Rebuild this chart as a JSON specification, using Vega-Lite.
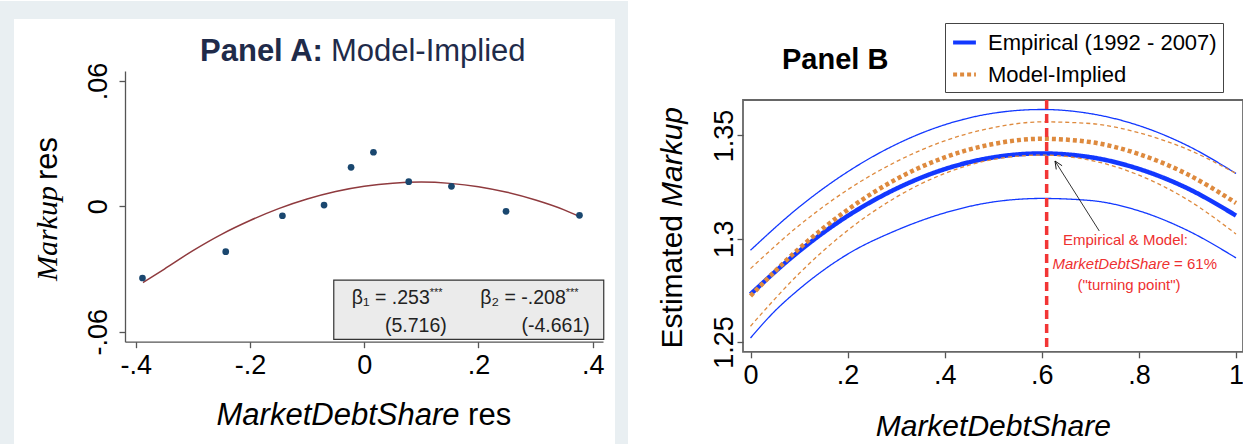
{
  "$schema": "https://vega.github.io/schema/vega-lite/v6.json",
  "padding": 0,
  "background": "white",
  "spacing": 0,
  "resolve": {"legend": {"color": "independent", "strokeDash": "independent"}},
  "config": {
    "view": {"stroke": null},
    "font": "Liberation Sans",
    "axis": {
      "grid": false,
      "zindex": 1,
      "labelFont": "Liberation Sans",
      "labelFontSize": 27,
      "labelColor": "#000000",
      "tickColor": "#555555",
      "domainColor": "#555555",
      "tickWidth": 1.3,
      "domainWidth": 1.3,
      "tickSize": 6,
      "labelFlush": false,
      "labelOverlap": false
    },
    "legend": {
      "orient": "none",
      "legendX": 202,
      "legendY": -48,
      "symbolType": "stroke",
      "symbolSize": 520,
      "symbolStrokeWidth": 4,
      "labelFont": "Liberation Sans",
      "labelFontSize": 22,
      "labelLimit": 400,
      "labelColor": "#000000",
      "labelOffset": 10,
      "strokeColor": "#444444",
      "fillColor": "#ffffff",
      "padding": 6,
      "rowPadding": 7,
      "cornerRadius": 0
    }
  },
  "datasets": {
    "binnedA": [
      {"x": -0.3884, "y": -0.0343},
      {"x": -0.2426, "y": -0.0217},
      {"x": -0.1433, "y": -0.0045},
      {"x": -0.0704, "y": 0.0006},
      {"x": -0.0231, "y": 0.0187},
      {"x": 0.0161, "y": 0.0259},
      {"x": 0.0779, "y": 0.0118},
      {"x": 0.1527, "y": 0.0096},
      {"x": 0.2483, "y": -0.0024},
      {"x": 0.3769, "y": -0.0043}
    ],
    "fitA": [
      {"x": -0.3874, "y": -0.0365},
      {"x": -0.35, "y": -0.0300},
      {"x": -0.30, "y": -0.0212},
      {"x": -0.25, "y": -0.0134},
      {"x": -0.20, "y": -0.0068},
      {"x": -0.15, "y": -0.0011},
      {"x": -0.10, "y": 0.0035},
      {"x": -0.05, "y": 0.0071},
      {"x": 0.00, "y": 0.0096},
      {"x": 0.05, "y": 0.0111},
      {"x": 0.10, "y": 0.0116},
      {"x": 0.15, "y": 0.0110},
      {"x": 0.20, "y": 0.0094},
      {"x": 0.25, "y": 0.0067},
      {"x": 0.30, "y": 0.0030},
      {"x": 0.35, "y": -0.0017},
      {"x": 0.3769, "y": -0.0049}
    ],
    "curvesB": [
      {"series": "Empirical (1992 - 2007)", "curve": "emp_lo", "kind": "ci", "x": 0.0, "y": 1.2519},
      {"series": "Empirical (1992 - 2007)", "curve": "emp_lo", "kind": "ci", "x": 0.05, "y": 1.2649},
      {"series": "Empirical (1992 - 2007)", "curve": "emp_lo", "kind": "ci", "x": 0.1, "y": 1.2755},
      {"series": "Empirical (1992 - 2007)", "curve": "emp_lo", "kind": "ci", "x": 0.2, "y": 1.2925},
      {"series": "Empirical (1992 - 2007)", "curve": "emp_lo", "kind": "ci", "x": 0.3, "y": 1.3040},
      {"series": "Empirical (1992 - 2007)", "curve": "emp_lo", "kind": "ci", "x": 0.4, "y": 1.3125},
      {"series": "Empirical (1992 - 2007)", "curve": "emp_lo", "kind": "ci", "x": 0.5, "y": 1.3178},
      {"series": "Empirical (1992 - 2007)", "curve": "emp_lo", "kind": "ci", "x": 0.6, "y": 1.3195},
      {"series": "Empirical (1992 - 2007)", "curve": "emp_lo", "kind": "ci", "x": 0.7, "y": 1.3185},
      {"series": "Empirical (1992 - 2007)", "curve": "emp_lo", "kind": "ci", "x": 0.8, "y": 1.3135},
      {"series": "Empirical (1992 - 2007)", "curve": "emp_lo", "kind": "ci", "x": 0.9, "y": 1.3040},
      {"series": "Empirical (1992 - 2007)", "curve": "emp_lo", "kind": "ci", "x": 1.0, "y": 1.2907},
      {"series": "Empirical (1992 - 2007)", "curve": "emp_hi", "kind": "ci", "x": 0.0, "y": 1.2944},
      {"series": "Empirical (1992 - 2007)", "curve": "emp_hi", "kind": "ci", "x": 0.1, "y": 1.3153},
      {"series": "Empirical (1992 - 2007)", "curve": "emp_hi", "kind": "ci", "x": 0.2, "y": 1.3324},
      {"series": "Empirical (1992 - 2007)", "curve": "emp_hi", "kind": "ci", "x": 0.3, "y": 1.3457},
      {"series": "Empirical (1992 - 2007)", "curve": "emp_hi", "kind": "ci", "x": 0.4, "y": 1.3552},
      {"series": "Empirical (1992 - 2007)", "curve": "emp_hi", "kind": "ci", "x": 0.5, "y": 1.3608},
      {"series": "Empirical (1992 - 2007)", "curve": "emp_hi", "kind": "ci", "x": 0.6, "y": 1.3626},
      {"series": "Empirical (1992 - 2007)", "curve": "emp_hi", "kind": "ci", "x": 0.7, "y": 1.3606},
      {"series": "Empirical (1992 - 2007)", "curve": "emp_hi", "kind": "ci", "x": 0.8, "y": 1.3548},
      {"series": "Empirical (1992 - 2007)", "curve": "emp_hi", "kind": "ci", "x": 0.9, "y": 1.3451},
      {"series": "Empirical (1992 - 2007)", "curve": "emp_hi", "kind": "ci", "x": 1.0, "y": 1.3316},
      {"series": "Empirical (1992 - 2007)", "curve": "emp_fit", "kind": "fit", "x": 0.0, "y": 1.2731},
      {"series": "Empirical (1992 - 2007)", "curve": "emp_fit", "kind": "fit", "x": 0.1, "y": 1.2939},
      {"series": "Empirical (1992 - 2007)", "curve": "emp_fit", "kind": "fit", "x": 0.2, "y": 1.3110},
      {"series": "Empirical (1992 - 2007)", "curve": "emp_fit", "kind": "fit", "x": 0.3, "y": 1.3242},
      {"series": "Empirical (1992 - 2007)", "curve": "emp_fit", "kind": "fit", "x": 0.4, "y": 1.3337},
      {"series": "Empirical (1992 - 2007)", "curve": "emp_fit", "kind": "fit", "x": 0.5, "y": 1.3394},
      {"series": "Empirical (1992 - 2007)", "curve": "emp_fit", "kind": "fit", "x": 0.6, "y": 1.3413},
      {"series": "Empirical (1992 - 2007)", "curve": "emp_fit", "kind": "fit", "x": 0.7, "y": 1.3395},
      {"series": "Empirical (1992 - 2007)", "curve": "emp_fit", "kind": "fit", "x": 0.8, "y": 1.3338},
      {"series": "Empirical (1992 - 2007)", "curve": "emp_fit", "kind": "fit", "x": 0.9, "y": 1.3244},
      {"series": "Empirical (1992 - 2007)", "curve": "emp_fit", "kind": "fit", "x": 1.0, "y": 1.3112},
      {"series": "Model-Implied", "curve": "mod_lo", "kind": "ci", "x": 0.0, "y": 1.2576},
      {"series": "Model-Implied", "curve": "mod_lo", "kind": "ci", "x": 0.1, "y": 1.2831},
      {"series": "Model-Implied", "curve": "mod_lo", "kind": "ci", "x": 0.2, "y": 1.3040},
      {"series": "Model-Implied", "curve": "mod_lo", "kind": "ci", "x": 0.3, "y": 1.3201},
      {"series": "Model-Implied", "curve": "mod_lo", "kind": "ci", "x": 0.4, "y": 1.3316},
      {"series": "Model-Implied", "curve": "mod_lo", "kind": "ci", "x": 0.5, "y": 1.3384},
      {"series": "Model-Implied", "curve": "mod_lo", "kind": "ci", "x": 0.6, "y": 1.3405},
      {"series": "Model-Implied", "curve": "mod_lo", "kind": "ci", "x": 0.7, "y": 1.3380},
      {"series": "Model-Implied", "curve": "mod_lo", "kind": "ci", "x": 0.8, "y": 1.3308},
      {"series": "Model-Implied", "curve": "mod_lo", "kind": "ci", "x": 0.9, "y": 1.3189},
      {"series": "Model-Implied", "curve": "mod_lo", "kind": "ci", "x": 1.0, "y": 1.3023},
      {"series": "Model-Implied", "curve": "mod_hi", "kind": "ci", "x": 0.0, "y": 1.2855},
      {"series": "Model-Implied", "curve": "mod_hi", "kind": "ci", "x": 0.1, "y": 1.3064},
      {"series": "Model-Implied", "curve": "mod_hi", "kind": "ci", "x": 0.2, "y": 1.3237},
      {"series": "Model-Implied", "curve": "mod_hi", "kind": "ci", "x": 0.3, "y": 1.3373},
      {"series": "Model-Implied", "curve": "mod_hi", "kind": "ci", "x": 0.4, "y": 1.3474},
      {"series": "Model-Implied", "curve": "mod_hi", "kind": "ci", "x": 0.5, "y": 1.3538},
      {"series": "Model-Implied", "curve": "mod_hi", "kind": "ci", "x": 0.6, "y": 1.3566},
      {"series": "Model-Implied", "curve": "mod_hi", "kind": "ci", "x": 0.7, "y": 1.3558},
      {"series": "Model-Implied", "curve": "mod_hi", "kind": "ci", "x": 0.8, "y": 1.3513},
      {"series": "Model-Implied", "curve": "mod_hi", "kind": "ci", "x": 0.9, "y": 1.3433},
      {"series": "Model-Implied", "curve": "mod_hi", "kind": "ci", "x": 1.0, "y": 1.3316},
      {"series": "Model-Implied", "curve": "mod_fit", "kind": "fit", "x": 0.0, "y": 1.2723},
      {"series": "Model-Implied", "curve": "mod_fit", "kind": "fit", "x": 0.1, "y": 1.2952},
      {"series": "Model-Implied", "curve": "mod_fit", "kind": "fit", "x": 0.2, "y": 1.3140},
      {"series": "Model-Implied", "curve": "mod_fit", "kind": "fit", "x": 0.3, "y": 1.3288},
      {"series": "Model-Implied", "curve": "mod_fit", "kind": "fit", "x": 0.4, "y": 1.3394},
      {"series": "Model-Implied", "curve": "mod_fit", "kind": "fit", "x": 0.5, "y": 1.3459},
      {"series": "Model-Implied", "curve": "mod_fit", "kind": "fit", "x": 0.6, "y": 1.3484},
      {"series": "Model-Implied", "curve": "mod_fit", "kind": "fit", "x": 0.7, "y": 1.3468},
      {"series": "Model-Implied", "curve": "mod_fit", "kind": "fit", "x": 0.8, "y": 1.3410},
      {"series": "Model-Implied", "curve": "mod_fit", "kind": "fit", "x": 0.9, "y": 1.3312},
      {"series": "Model-Implied", "curve": "mod_fit", "kind": "fit", "x": 1.0, "y": 1.3173}
    ]
  },
  "hconcat": [
    {
      "width": 478,
      "height": 270.7,
      "layer": [
        {
          "data": {"values": [{}]},
          "mark": {"type": "rect", "fill": "#e9eff2"},
          "encoding": {
            "x": {
              "datum": -0.6379, "type": "quantitative",
              "scale": {"domain": [-0.419, 0.4181], "nice": false, "zero": false},
              "axis": {
                "values": [-0.4, -0.2, 0, 0.2, 0.4],
                "labelExpr": "datum.value == 0 ? '0' : replace(toString(datum.value), '0.', '.')",
                "labelPadding": 5,
                "zindex": 1,
                "title": null
              }
            },
            "x2": {"datum": 0.4619},
            "y": {
              "datum": 0.09831, "type": "quantitative",
              "scale": {"domain": [-0.0648, 0.0648], "nice": false, "zero": false},
              "axis": {
                "values": [-0.06, 0, 0.06],
                "labelExpr": "datum.value == 0 ? '0' : replace(toString(datum.value), '0.', '.')",
                "labelAngle": 270,
                "labelAlign": "center",
                "labelBaseline": "alphabetic",
                "labelPadding": 13,
                "zindex": 1,
                "title": null
              }
            },
            "y2": {"datum": -0.11426}
          }
        },
        {
          "data": {"values": [{}]},
          "mark": {"type": "rect", "fill": "#ffffff"},
          "encoding": {
            "x": {"datum": -0.6134}, "x2": {"datum": 0.4391},
            "y": {"datum": 0.0897}, "y2": {"datum": -0.11426}
          }
        },
        {
          "data": {"values": [{}]},
          "mark": {"type": "rect", "fill": "#ebebeb", "stroke": "#333333", "strokeWidth": 1.2},
          "encoding": {
            "x": {"datum": -0.0534}, "x2": {"datum": 0.4194},
            "y": {"datum": -0.0353}, "y2": {"datum": -0.0637}
          }
        },
        {
          "data": {"name": "fitA"},
          "mark": {"type": "line", "color": "#8f3a3e", "strokeWidth": 1.5, "interpolate": "monotone"},
          "encoding": {
            "x": {"field": "x", "type": "quantitative", "title": null},
            "y": {"field": "y", "type": "quantitative", "title": null}
          }
        },
        {
          "data": {"name": "binnedA"},
          "mark": {"type": "circle", "size": 45, "color": "#1a476f", "opacity": 1},
          "encoding": {
            "x": {"field": "x", "type": "quantitative", "title": null},
            "y": {"field": "y", "type": "quantitative", "title": null}
          }
        },
        {
          "data": {"values": [{}]},
          "mark": {"type": "text", "text": "Panel A:", "fontWeight": "bold", "fontSize": 31, "color": "#1f2b4a", "align": "right", "baseline": "alphabetic"},
          "encoding": {"x": {"datum": -0.0724}, "y": {"datum": 0.0696}}
        },
        {
          "data": {"values": [{}]},
          "mark": {"type": "text", "text": "Model-Implied", "fontSize": 31, "color": "#1f2b4a", "align": "left", "baseline": "alphabetic"},
          "encoding": {"x": {"datum": -0.0584}, "y": {"datum": 0.0696}}
        },
        {
          "data": {"values": [{}]},
          "mark": {"type": "text", "text": "MarketDebtShare", "fontStyle": "italic", "fontSize": 31, "color": "#000000", "align": "right", "baseline": "alphabetic"},
          "encoding": {"x": {"datum": 0.1668}, "y": {"datum": -0.1047}}
        },
        {
          "data": {"values": [{}]},
          "mark": {"type": "text", "text": "res", "fontSize": 31, "color": "#000000", "align": "left", "baseline": "alphabetic", "dx": 8.6},
          "encoding": {"x": {"datum": 0.1668}, "y": {"datum": -0.1047}}
        },
        {
          "data": {"values": [{}]},
          "mark": {"type": "text", "text": "Markup", "font": "Liberation Serif", "fontStyle": "italic", "fontSize": 30, "color": "#000000", "angle": 270, "align": "right", "baseline": "alphabetic"},
          "encoding": {"x": {"datum": -0.5385}, "y": {"datum": 0.0097}}
        },
        {
          "data": {"values": [{}]},
          "mark": {"type": "text", "text": "res", "fontSize": 31, "color": "#000000", "angle": 270, "align": "left", "baseline": "alphabetic", "dx": 6},
          "encoding": {"x": {"datum": -0.5385}, "y": {"datum": 0.0097}}
        },
        {
          "data": {"values": [{}]},
          "mark": {"type": "text", "text": "β₁ = .253", "fontSize": 19.5, "color": "#222222", "align": "right", "baseline": "alphabetic"},
          "encoding": {"x": {"datum": 0.1147}, "y": {"datum": -0.0468}}
        },
        {
          "data": {"values": [{}]},
          "mark": {"type": "text", "text": "***", "fontSize": 11, "color": "#222222", "align": "left", "baseline": "alphabetic"},
          "encoding": {"x": {"datum": 0.1147}, "y": {"datum": -0.0427}}
        },
        {
          "data": {"values": [{}]},
          "mark": {"type": "text", "text": "(5.716)", "fontSize": 19.5, "color": "#222222", "align": "right", "baseline": "alphabetic"},
          "encoding": {"x": {"datum": 0.1445}, "y": {"datum": -0.0602}}
        },
        {
          "data": {"values": [{}]},
          "mark": {"type": "text", "text": "β₂ = -.208", "fontSize": 19.5, "color": "#222222", "align": "right", "baseline": "alphabetic"},
          "encoding": {"x": {"datum": 0.3529}, "y": {"datum": -0.0468}}
        },
        {
          "data": {"values": [{}]},
          "mark": {"type": "text", "text": "***", "fontSize": 11, "color": "#222222", "align": "left", "baseline": "alphabetic"},
          "encoding": {"x": {"datum": 0.3529}, "y": {"datum": -0.0427}}
        },
        {
          "data": {"values": [{}]},
          "mark": {"type": "text", "text": "(-4.661)", "fontSize": 19.5, "color": "#222222", "align": "right", "baseline": "alphabetic"},
          "encoding": {"x": {"datum": 0.3949}, "y": {"datum": -0.0602}}
        }
      ]
    },
    {
      "width": 501,
      "height": 280.8,
      "layer": [
        {
          "data": {"values": [{}]},
          "mark": {"type": "rect", "fill": "#ffffff"},
          "encoding": {
            "x": {
              "datum": -0.25026, "type": "quantitative",
              "scale": {"domain": [-0.01545, 1.01648], "nice": false, "zero": false},
              "axis": {
                "values": [0, 0.2, 0.4, 0.6, 0.8, 1],
                "labelExpr": "datum.value == 0 ? '0' : replace(toString(datum.value), '0.', '.')",
                "domain": false,
                "labelPadding": 5,
                "zindex": 1,
                "title": null
              }
            },
            "x2": {"datum": 1.01648},
            "y": {
              "datum": 1.41517, "type": "quantitative",
              "scale": {"domain": [1.2452, 1.38125], "nice": false, "zero": false},
              "axis": {
                "values": [1.25, 1.3, 1.35],
                "labelExpr": "toString(datum.value)",
                "labelAngle": 270,
                "labelAlign": "center",
                "labelBaseline": "alphabetic",
                "labelPadding": 5,
                "domain": false,
                "zindex": 1,
                "title": null
              }
            },
            "y2": {"datum": 1.20004}
          }
        },
        {
          "data": {"values": [{}]},
          "mark": {"type": "rect", "fillOpacity": 0, "stroke": "#666666", "strokeWidth": 1.8},
          "encoding": {
            "x": {"datum": -0.01545}, "x2": {"datum": 1.0145},
            "y": {"datum": 1.3672}, "y2": {"datum": 1.2452}
          }
        },
        {
          "data": {"name": "curvesB"},
          "transform": [{"filter": "datum.series == 'Empirical (1992 - 2007)'"}],
          "mark": {"type": "line", "interpolate": "monotone"},
          "encoding": {
            "x": {"field": "x", "type": "quantitative", "title": null},
            "y": {"field": "y", "type": "quantitative", "title": null},
            "detail": {"field": "curve"},
            "color": {
              "field": "series", "type": "nominal",
              "scale": {"domain": ["Empirical (1992 - 2007)", "Model-Implied"], "range": ["#1238ff", "#de8a3e"]},
              "legend": {"title": null, "labelExpr": "datum.label + '\u00a0\u00a0'"}
            },
            "strokeDash": {
              "field": "series", "type": "nominal",
              "scale": {"domain": ["Empirical (1992 - 2007)", "Model-Implied"], "range": [[1, 0], [4, 3]]},
              "legend": {"title": null, "labelExpr": "datum.label + '\u00a0\u00a0'"}
            },
            "strokeWidth": {
              "field": "kind", "type": "ordinal",
              "scale": {"domain": ["fit", "ci"], "range": [4.5, 1.3]},
              "legend": null
            }
          }
        },
        {
          "data": {"name": "curvesB"},
          "transform": [{"filter": "datum.series == 'Model-Implied'"}],
          "mark": {"type": "line", "interpolate": "monotone"},
          "encoding": {
            "x": {"field": "x", "type": "quantitative", "title": null},
            "y": {"field": "y", "type": "quantitative", "title": null},
            "detail": {"field": "curve"},
            "color": {"field": "series", "type": "nominal", "legend": {"title": null, "labelExpr": "datum.label + '\u00a0\u00a0'"}},
            "strokeDash": {"field": "series", "type": "nominal", "legend": {"title": null, "labelExpr": "datum.label + '\u00a0\u00a0'"}},
            "strokeWidth": {"field": "kind", "type": "ordinal", "legend": null}
          }
        },
        {
          "data": {"values": [{}]},
          "mark": {"type": "rule", "color": "#f23535", "strokeWidth": 3.5, "strokeDash": [9, 5]},
          "encoding": {"x": {"datum": 0.61}, "y": {"datum": 1.3672}, "y2": {"datum": 1.2452}}
        },
        {
          "data": {"values": [{}]},
          "mark": {"type": "rule", "color": "#000000", "strokeWidth": 0.8},
          "encoding": {
            "x": {"datum": 0.7184}, "y": {"datum": 1.30373},
            "x2": {"datum": 0.6272}, "y2": {"datum": 1.33764}
          }
        },
        {
          "data": {"values": [{}]},
          "mark": {"type": "point", "shape": "M -0.4 0.9 L 0 0 L 0.4 0.9", "size": 300, "filled": false, "color": "#000000", "strokeWidth": 0.8, "angle": 327.7, "opacity": 1},
          "encoding": {"x": {"datum": 0.6272}, "y": {"datum": 1.33764}}
        },
        {
          "data": {"values": [{}]},
          "mark": {"type": "text", "text": "Panel B", "fontWeight": "bold", "fontSize": 29, "color": "#000000", "align": "left", "baseline": "alphabetic"},
          "encoding": {"x": {"datum": 0.0649}, "y": {"datum": 1.38222}}
        },
        {
          "data": {"values": [{}]},
          "mark": {"type": "text", "text": "Estimated", "fontSize": 30, "color": "#000000", "angle": 270, "align": "right", "baseline": "alphabetic"},
          "encoding": {"x": {"datum": -0.14109}, "y": {"datum": 1.31148}}
        },
        {
          "data": {"values": [{}]},
          "mark": {"type": "text", "text": "Markup", "fontStyle": "italic", "fontSize": 30, "color": "#000000", "angle": 270, "align": "left", "baseline": "alphabetic", "dx": 8},
          "encoding": {"x": {"datum": -0.14109}, "y": {"datum": 1.31148}}
        },
        {
          "data": {"values": [{}]},
          "mark": {"type": "text", "text": "MarketDebtShare", "fontStyle": "italic", "fontSize": 30, "color": "#000000", "align": "center", "baseline": "alphabetic"},
          "encoding": {"x": {"datum": 0.5}, "y": {"datum": 1.2044}}
        },
        {
          "data": {"values": [{}]},
          "mark": {"type": "text", "text": "Empirical & Model:", "fontSize": 15, "color": "#ee3030", "align": "center", "baseline": "alphabetic"},
          "encoding": {"x": {"datum": 0.7724}, "y": {"datum": 1.29695}}
        },
        {
          "data": {"values": [{}]},
          "mark": {"type": "text", "text": "MarketDebtShare", "fontStyle": "italic", "fontSize": 15, "color": "#ee3030", "align": "right", "baseline": "alphabetic"},
          "encoding": {"x": {"datum": 0.8641}, "y": {"datum": 1.28547}}
        },
        {
          "data": {"values": [{}]},
          "mark": {"type": "text", "text": "= 61%", "fontSize": 15, "color": "#ee3030", "align": "left", "baseline": "alphabetic", "dx": 4},
          "encoding": {"x": {"datum": 0.8641}, "y": {"datum": 1.28547}}
        },
        {
          "data": {"values": [{}]},
          "mark": {"type": "text", "text": "(\"turning point\")", "fontSize": 15, "color": "#ee3030", "align": "center", "baseline": "alphabetic"},
          "encoding": {"x": {"datum": 0.7796}, "y": {"datum": 1.27515}}
        }
      ]
    }
  ]
}
